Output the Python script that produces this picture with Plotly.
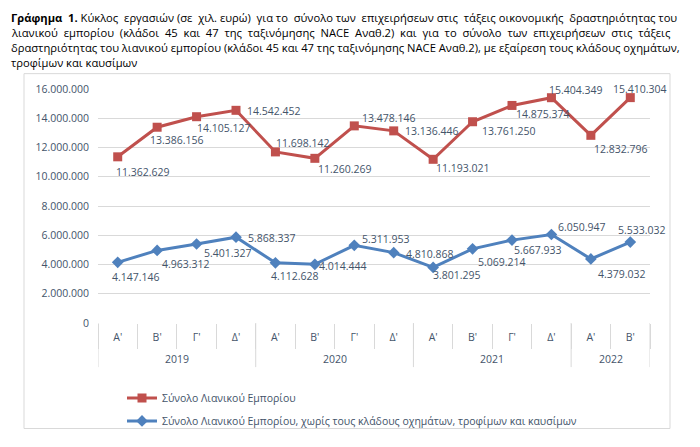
import plotly.graph_objects as go

quarters = ["Α'", "Β'", "Γ'", "Δ'", "Α'", "Β'", "Γ'", "Δ'", "Α'", "Β'", "Γ'", "Δ'", "Α'", "Β'"]
years = ["2019", "2020", "2021", "2022"]
year_counts = [4, 4, 4, 2]

total_retail = [11362629, 13386156, 14105127, 14542452, 11698142, 11260269, 13478146,
                13136446, 11193021, 13761250, 14875374, 15404349, 12832796, 15410304]
retail_excl = [4147146, 4963312, 5401327, 5868337, 4112628, 4014444, 5311953,
               4810868, 3801295, 5069214, 5667933, 6050947, 4379032, 5533032]

name_total = "Σύνολο Λιανικού Εμπορίου"
name_excl = "Σύνολο Λιανικού Εμπορίου, χωρίς τους κλάδους οχημάτων, τροφίμων και καυσίμων"

y_ticks = [0, 2000000, 4000000, 6000000, 8000000, 10000000, 12000000, 14000000, 16000000]

title_lines = [
    "<b>Γράφημα 1.</b> Κύκλος εργασιών (σε χιλ. ευρώ) για το σύνολο των επιχειρήσεων στις τάξεις οικονομικής δραστηριότητας του",
    "λιανικού εμπορίου (κλάδοι 45 και 47 της ταξινόμησης NACE Αναθ.2) και για το σύνολο των επιχειρήσεων στις τάξεις",
    "δραστηριότητας του λιανικού εμπορίου (κλάδοι 45 και 47 της ταξινόμησης NACE Αναθ.2), με εξαίρεση τους κλάδους οχημάτων,",
    "τροφίμων και καυσίμων",
]
# extra non-breaking spaces per word gap, to imitate the justified paragraph
title_pad = [1, 2, 0, 0]

# label pixel offsets (dx right, dy down) relative to each point
red_off = [(25, 15), (20, 13), (27, 11), (38, 1), (28, -9), (30, 11), (35, -8),
           (38, 0), (30, 9), (36, 9), (31, 9), (25, -8), (30, 14), (10, -9)]
blue_off = [(18, 15), (29, 14), (31, 9), (36, 1), (20, 13), (28, 2), (32, -6),
            (36, 1), (24, 8), (29, 13), (26, 10), (31, -8), (31, 15), (12, -12)]

RED = "#C0504D"
BLUE = "#4F81BD"
TXT = "#44546A"
FONT = "Open Sans"

# The page body has an 8px margin, so the figure is drawn 8px right/down of the
# window origin. Page-pixel targets below are converted with that offset.
OFF = 8
W, H = 700 - OFF, 447 - OFF
PL, PR, PT, PB = 98, 650, 89, 333          # plot area in page pixels
L, T = PL - OFF, PT - OFF
R, B = W - (PR - OFF), H - (PB - OFF)
PW, PH = PR - PL, PB - PT


def px(x):
    return (x - PL) / PW


def py(y):
    return (PB - y) / PH


def fmt(v):
    return f"{v:,}".replace(",", ".")


def justify(line, pad):
    if pad <= 0:
        return line
    parts = line.split(" ")
    out = parts[0]
    for k, w in enumerate(parts[1:]):
        extra = "\u00a0" if (pad >= 2 or k % 2 == 0) else ""
        out += " " + extra + w
    return out


x_idx = list(range(len(quarters)))

fig = go.Figure()
fig.add_trace(go.Scatter(
    x=x_idx, y=total_retail, name=name_total, mode="lines+markers",
    line=dict(color=RED, width=3), marker=dict(symbol="square", size=9, color=RED),
    legendgroup="a",
))
fig.add_trace(go.Scatter(
    x=x_idx, y=retail_excl, name=name_excl, mode="lines+markers",
    line=dict(color=BLUE, width=3), marker=dict(symbol="diamond", size=9, color=BLUE),
    legendgroup="b",
))

annotations = []
for series, offs in ((total_retail, red_off), (retail_excl, blue_off)):
    for i, (v, (dx, dy)) in enumerate(zip(series, offs)):
        annotations.append(dict(
            x=i, y=v, xref="x", yref="y", text=fmt(v), showarrow=False,
            xanchor="center", yanchor="middle", xshift=dx, yshift=-dy,
            font=dict(family=FONT, size=10.5, color=TXT),
        ))

# year labels and dividers
start = 0
shapes = []
for yr, n in zip(years, year_counts):
    annotations.append(dict(
        x=start + (n - 1) / 2, y=py(371), xref="x", yref="paper", text=yr,
        showarrow=False, xanchor="center", yanchor="middle",
        font=dict(family=FONT, size=10.5, color=TXT),
    ))
    start += n
boundary = -0.5
shapes.append(dict(type="line", xref="x", yref="paper", x0=boundary, x1=boundary,
                   y0=0, y1=py(379), line=dict(color="#D9D9D9", width=1)))
for n in year_counts:
    boundary += n
    shapes.append(dict(type="line", xref="x", yref="paper", x0=boundary, x1=boundary,
                       y0=0, y1=py(379), line=dict(color="#D9D9D9", width=1)))

# chart frame
shapes.append(dict(type="rect", xref="paper", yref="paper",
                   x0=px(24), x1=px(670), y0=py(443), y1=py(73),
                   line=dict(color="#D9D9D9", width=1), layer="below"))

# title lines
title_y = [14, 30, 46, 61]
for line, ty, pad in zip(title_lines, title_y, title_pad):
    annotations.append(dict(
        x=px(9), y=py(ty), xref="paper", yref="paper", text=justify(line, pad),
        showarrow=False, xanchor="left", yanchor="middle",
        font=dict(family=FONT, size=11.2, color="#000000"),
    ))

fig.update_layout(
    width=W, height=H,
    margin=dict(l=L, r=R, t=T, b=B),
    paper_bgcolor="white", plot_bgcolor="white",
    showlegend=True,
    legend=dict(x=px(122), y=py(396), xanchor="left", yanchor="top",
                font=dict(family=FONT, size=10.5, color=TXT),
                tracegroupgap=4, bgcolor="rgba(0,0,0,0)"),
    annotations=annotations,
    shapes=shapes,
)
fig.update_xaxes(
    range=[-0.5, len(quarters) - 0.5], tickvals=x_idx, ticktext=quarters,
    showgrid=False, zeroline=False, showline=False, ticks="",
    tickfont=dict(family=FONT, size=10.5, color=TXT), ticklabelstandoff=6,
    minor=dict(tick0=0.5, dtick=1, ticks="outside", ticklen=25, tickcolor="#D9D9D9", tickwidth=1),
    fixedrange=True,
)
fig.update_yaxes(
    range=[0, 16000000], tickvals=y_ticks, ticktext=[fmt(v) for v in y_ticks],
    showgrid=True, gridcolor="#D9D9D9", gridwidth=1, zeroline=False, showline=False,
    tickfont=dict(family=FONT, size=10.5, color=TXT), ticklabelstandoff=8,
    fixedrange=True,
)

fig.write_html("out.html")
